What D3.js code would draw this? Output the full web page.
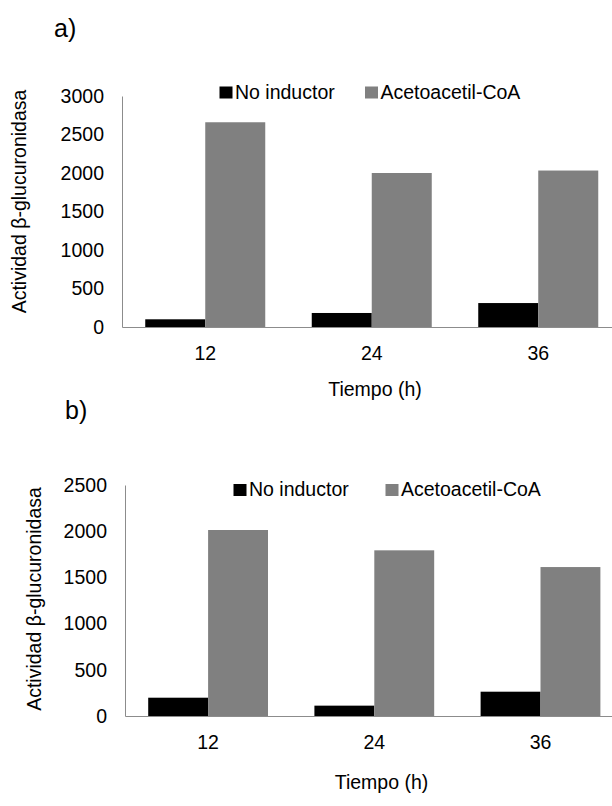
<!DOCTYPE html>
<html>
<head>
<meta charset="utf-8">
<script src="https://cdn.jsdelivr.net/npm/d3@7"></script>
<style>
  html, body { margin: 0; padding: 0; background: #fff; }
  svg { display: block; font-family: "Liberation Sans", Arial, sans-serif; }
</style>
</head>
<body>
<svg id="fig" width="612" height="806"></svg>
<script>
// Sampling times (h)
const times = ["12", "24", "36"];
const seriesNames = ["No inductor", "Acetoacetil-CoA"];

// Panel a) β-glucuronidase activity
const aNoInductor = [100, 182, 311];
const aAcetoacetil = [2659, 2000, 2032];
const aTicks = [0, 500, 1000, 1500, 2000, 2500, 3000];

// Panel b) β-glucuronidase activity
const bNoInductor = [198, 112, 263];
const bAcetoacetil = [2013, 1793, 1612];
const bTicks = [0, 500, 1000, 1500, 2000, 2500];

const yTitle = "Actividad β-glucuronidasa";
const xTitle = "Tiempo (h)";
const colors = ["#000000", "#808080"];
const axisColor = "#8c8c8c";
const fontSize = 19.5;

const svg = d3.select("#fig");

function panel(opts) {
  const g = svg.append("g");
  const series = [opts.s0, opts.s1];

  const y = d3.scaleLinear()
    .domain([0, d3.max(opts.ticks)])
    .range([opts.bottom, opts.top]);

  const x = d3.scaleBand()
    .domain(times)
    .range([opts.left, opts.right])
    .paddingInner(0)
    .paddingOuter(0);

  const xs = d3.scaleBand()
    .domain(d3.range(series.length))
    .range([0, x.bandwidth()])
    .paddingInner(0)
    .paddingOuter(0.3875);

  // bars
  times.forEach((t, i) => {
    g.selectAll(null)
      .data(series.map((s, k) => ({ k, v: s[i] })))
      .join("rect")
      .attr("x", d => x(t) + xs(d.k))
      .attr("y", d => y(d.v))
      .attr("width", xs.bandwidth())
      .attr("height", d => y(0) - y(d.v))
      .attr("fill", d => colors[d.k]);
  });

  // y axis
  const ya = g.append("g")
    .attr("transform", `translate(${opts.left},0)`)
    .call(d3.axisLeft(y).tickValues(opts.ticks).tickSize(0).tickPadding(18).tickFormat(d3.format("d")));
  ya.select(".domain").attr("stroke", axisColor).attr("stroke-width", 1);
  ya.selectAll("text").attr("font-size", fontSize).attr("fill", "#000")
    .attr("font-family", "Liberation Sans, Arial, sans-serif");

  // x axis
  const xa = g.append("g")
    .attr("transform", `translate(0,${opts.bottom})`)
    .call(d3.axisBottom(x).tickSize(0).tickPadding(19));
  xa.select(".domain").attr("stroke", axisColor).attr("stroke-width", 1);
  xa.selectAll("text").attr("font-size", fontSize).attr("fill", "#000")
    .attr("font-family", "Liberation Sans, Arial, sans-serif");

  // axis titles
  g.append("text")
    .attr("transform", `translate(${opts.yTitleX},${opts.yTitleY}) rotate(-90)`)
    .attr("text-anchor", "middle")
    .attr("font-size", fontSize)
    .text(yTitle);

  g.append("text")
    .attr("x", opts.xTitleX)
    .attr("y", opts.xTitleY)
    .attr("text-anchor", "middle")
    .attr("font-size", fontSize)
    .text(xTitle);

  // panel letter
  g.append("text")
    .attr("x", opts.labelX)
    .attr("y", opts.labelY)
    .attr("font-size", 25)
    .text(opts.label);

  // legend
  seriesNames.forEach((name, k) => {
    const lx = opts.legendX[k];
    g.append("rect")
      .attr("x", lx)
      .attr("y", opts.legendY - 12)
      .attr("width", 13)
      .attr("height", 12)
      .attr("fill", colors[k]);
    g.append("text")
      .attr("x", lx + 15.5)
      .attr("y", opts.legendY)
      .attr("font-size", fontSize)
      .text(name);
  });
}

panel({
  s0: aNoInductor, s1: aAcetoacetil, ticks: aTicks,
  left: 122, right: 621.5, top: 96, bottom: 327,
  yTitleX: 26, yTitleY: 201.5,
  xTitleX: 375, xTitleY: 396,
  label: "a)", labelX: 54, labelY: 37,
  legendX: [219.5, 365], legendY: 98.5
});

panel({
  s0: bNoInductor, s1: bAcetoacetil, ticks: bTicks,
  left: 125, right: 623.6, top: 485, bottom: 716,
  yTitleX: 41, yTitleY: 599,
  xTitleX: 381.5, xTitleY: 789,
  label: "b)", labelX: 65, labelY: 419,
  legendX: [233.5, 385.5], legendY: 496
});
</script>
</body>
</html>
